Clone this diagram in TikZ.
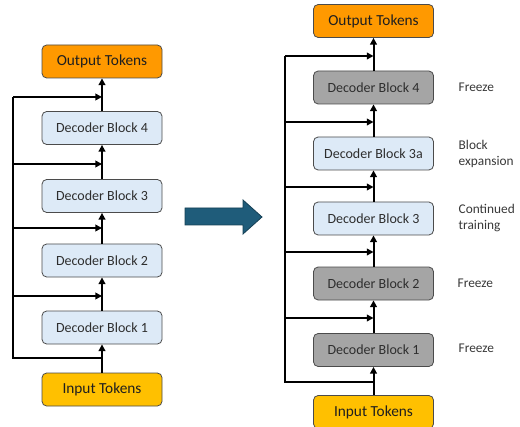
\documentclass[tikz,border=0pt]{standalone}
\usepackage{fontspec}
\setmainfont{Carlito}
\usetikzlibrary{arrows.meta}
\definecolor{outorange}{RGB}{255,153,0}
\definecolor{ingold}{RGB}{255,192,0}
\definecolor{paleblue}{RGB}{221,234,247}
\definecolor{frozengray}{RGB}{165,165,165}
\definecolor{edgegray}{RGB}{75,75,75}
\definecolor{arrowblue}{RGB}{31,92,122}
\tikzset{
        box/.style={draw=edgegray, line width=0.6pt, rounded corners=3.5pt, minimum width=90pt, minimum height=24.75pt, inner sep=0pt, text=black!82, font=\fontsize{10.5}{12.5}\selectfont},
        trainable/.style={box, fill=paleblue},
        frozen/.style={box, fill=frozengray},
        outtok/.style={box, fill=outorange, text=black!88, font=\fontsize{11.5}{13.5}\selectfont},
        intok/.style={box, fill=ingold, text=black!88, font=\fontsize{11.5}{13.5}\selectfont},
        flow/.style={line width=1.5pt, -{Triangle[length=5pt,width=5pt]}},
        skipline/.style={line width=1.5pt},
        note/.style={anchor=west, align=left, text=black!78, font=\fontsize{10}{12}\selectfont},
        bigarrow/.style={fill=arrowblue, draw=arrowblue!70!black, line width=0.6pt}
          }
\begin{document}
\begin{tikzpicture}[x=0.75pt, y=-0.75pt]
        \useasboundingbox (0,0) rectangle (520,427);
        % original stack
        \node[outtok] (lout) at (102,61.5) {Output Tokens};
        \node[trainable] (l4) at (102,128) {Decoder Block 4};
        \node[trainable] (l3) at (102,196) {Decoder Block 3};
        \node[trainable] (l2) at (102,260.5) {Decoder Block 2};
        \node[trainable] (l1) at (102,327.5) {Decoder Block 1};
        \node[intok] (lin) at (102,389.5) {Input Tokens};
        \draw[flow] (lin) -- (l1);
        \draw[flow] (l1) -- (l2);
        \draw[flow] (l2) -- (l3);
        \draw[flow] (l3) -- (l4);
        \draw[flow] (l4) -- (lout);
        \coordinate (ljoin) at (102,358);
        \coordinate (lbot) at (13,358);
        \coordinate (ltop) at (13,97);
        \draw[skipline] (ljoin) -- (lbot) -- (ltop);
        \foreach \i/\y in {1/296, 2/228, 3/164, 4/97} {
          \coordinate (lfrom\i) at (13,\y);
          \coordinate (lto\i) at (102,\y);
          \draw[flow] (lfrom\i) -- (lto\i);
        }

        % expansion arrow
        \draw[bigarrow] (185,208) -- (243,208) -- (243,200) -- (262,217) -- (243,234) -- (243,225) -- (185,225) -- cycle;

        % expanded stack
        \node[outtok] (rout) at (373.5,21) {Output Tokens};
        \node[frozen] (r4) at (373.5,87.5) {Decoder Block 4};
        \node[trainable] (r3a) at (373.5,153.5) {Decoder Block 3a};
        \node[trainable] (r3) at (373.5,218.5) {Decoder Block 3};
        \node[frozen] (r2) at (373.5,283.5) {Decoder Block 2};
        \node[frozen] (r1) at (373.5,350) {Decoder Block 1};
        \node[intok] (rin) at (373.5,412) {Input Tokens};
        \draw[flow] (rin) -- (r1);
        \draw[flow] (r1) -- (r2);
        \draw[flow] (r2) -- (r3);
        \draw[flow] (r3) -- (r3a);
        \draw[flow] (r3a) -- (r4);
        \draw[flow] (r4) -- (rout);
        \coordinate (rjoin) at (373.5,382);
        \coordinate (rbot) at (285,382);
        \coordinate (rtop) at (285,56);
        \draw[skipline] (rjoin) -- (rbot) -- (rtop);
        \foreach \i/\y in {1/318, 2/252, 3/187, 4/122, 5/56} {
          \coordinate (rfrom\i) at (285,\y);
          \coordinate (rto\i) at (373.5,\y);
          \draw[flow] (rfrom\i) -- (rto\i);
        }

        % notes
        \node[note] (n4) at (454,87.5) {Freeze};
        \node[note] (n3a) at (454,153.5) {Block\\expansion};
        \node[note] (n3) at (454,218.5) {Continued\\training};
        \node[note] (n2) at (453,283.5) {Freeze};
        \node[note] (n1) at (454,348) {Freeze};
      \end{tikzpicture}
\end{document}
